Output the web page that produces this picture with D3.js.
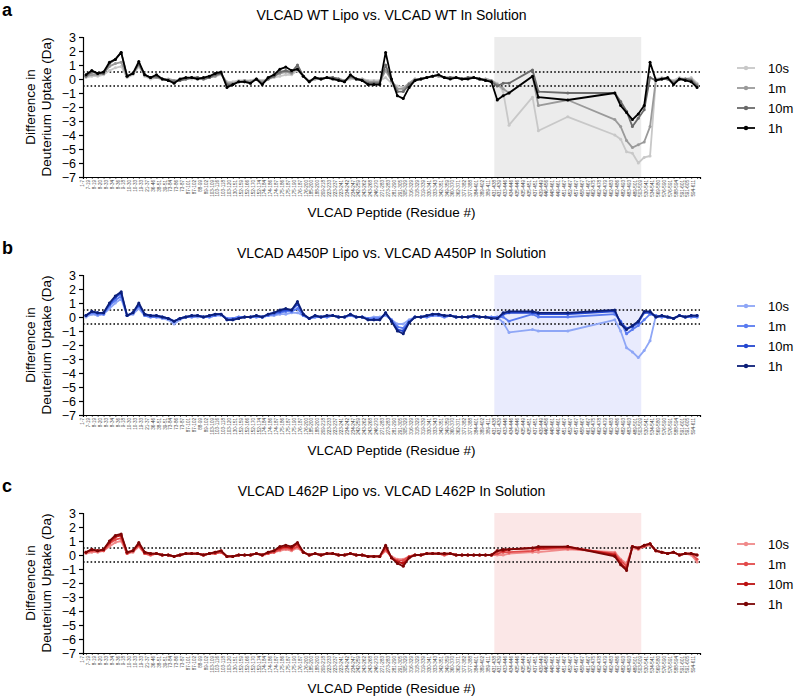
<!DOCTYPE html>
<html><head><meta charset="utf-8">
<script src="https://cdn.jsdelivr.net/npm/d3@7/dist/d3.min.js"></script>
<style>body{margin:0;background:#fff}svg{display:block;font-family:"Liberation Sans",Arial,sans-serif}</style>
</head><body><svg id="c" width="798" height="697"></svg>
<script>
const peptides = ["1-7","7-19","8-19","8-20","8-33","8-34","8-36","9-18","10-30","10-33","19-33","21-37","36-46","38-51","39-51","73-84","73-86","73-87","87-101","87-102","88-99","89-102","103-109","103-116","103-118","103-120","130-151","152-159","152-166","152-170","152-174","174-184","174-186","174-187","175-186","175-187","175-190","176-187","176-200","185-200","188-200","209-218","223-233","223-237","223-241","234-242","234-247","242-259","243-262","243-268","246-270","271-283","273-283","281-290","291-305","305-329","316-329","318-329","319-339","330-341","333-343","342-351","349-359","360-370","362-371","377-382","377-388","384-401","389-402","389-411","431-438","431-439","433-446","434-446","435-446","435-449","435-451","437-451","439-449","446-456","448-461","449-461","451-467","452-467","457-467","458-467","461-467","462-475","462-478","462-479","462-483","462-486","482-493","483-493","489-501","503-509","530-541","534-541","569-580","576-590","576-591","588-594","591-601","591-605","594-611"];
const timepoints = ["10s","1m","10m","1h"];
const panelTitles = ["VLCAD WT Lipo vs. VLCAD WT In Solution","VLCAD A450P Lipo vs. VLCAD A450P In Solution","VLCAD L462P Lipo vs. VLCAD L462P In Solution"];
const panelLetters = ["a","b","c"];
const yTicks = [3,2,1,0,-1,-2,-3,-4,-5,-6,-7];
const thresholds = [0.5,-0.5];
const shadeFrom = "431-438", shadeTo = "503-509";
const N = null;

// Panel a: WT
const wt10s = [0.1,0.2,0.2,0.3,0.6,0.8,0.9,0.1,0.3,0.9, 0.2,0.0,0.1,0.0,-0.1,-0.1,-0.1,0.0,0.0,0.1, 0.0,0.1,0.2,0.3,-0.2,-0.2,-0.1,-0.1,-0.1,0.0, -0.1,0.0,0.1,0.2,0.3,0.3,0.6,0.2,-0.1,0.0, 0.0,0.1,0.1,0.0,-0.1,0.0,0.0,0.0,-0.1,-0.1, -0.1,0.1,-0.3,-0.5,-0.6,-0.3,0.0,0.0,0.1,0.2, 0.2,0.1,0.1,0.1,0.0,0.1,0.1,0.0,0.0,-0.1, -0.3,-0.9,-3.3,N,N,N,-1.3,-3.7,N,N, N,N,-2.7,N,N,N,N,N,N,N, -4.0,-4.3,-5.2,-5.3,-6.0,-5.6,-5.5, 0.0,0.1,0.0,-0.1,0.1,0.0,0.1,-0.3];
const wt1m = [0.2,0.3,0.3,0.4,0.9,1.1,1.2,0.2,0.4,1.0, 0.3,0.1,0.1,0.0,0.0,-0.1,-0.1,0.0,0.1,0.1, 0.0,0.1,0.2,0.4,-0.3,-0.3,-0.2,-0.1,-0.2,0.0, -0.2,0.0,0.2,0.4,0.5,0.4,0.8,0.2,-0.2,0.0, 0.0,0.1,0.1,0.0,-0.1,0.1,0.0,0.0,-0.2,-0.2, -0.2,0.6,-0.1,-0.7,-0.7,-0.3,0.0,0.0,0.1,0.2, 0.2,0.1,0.1,0.1,0.0,0.1,0.1,0.0,0.0,-0.1, -0.4,-0.7,-1.0,N,N,N,0.2,-1.9,N,N, N,N,-1.5,N,N,N,N,N,N,N, -2.9,-3.4,-4.4,-4.9,-4.7,-4.5,-3.4, 0.0,0.0,0.0,-0.2,0.0,0.0,0.0,-0.4];
const wt10m = [0.2,0.5,0.4,0.4,1.1,1.4,1.9,0.2,0.4,1.1, 0.3,0.1,0.2,0.0,-0.1,-0.2,-0.1,0.0,0.1,0.1, 0.0,0.1,0.3,0.4,-0.4,-0.4,-0.2,-0.2,-0.3,0.0, -0.3,0.0,0.2,0.5,0.6,0.5,1.0,0.2,-0.2,0.1, 0.0,0.1,0.1,0.0,-0.2,0.2,0.0,-0.1,-0.3,-0.3, -0.3,1.0,-0.1,-0.9,-0.9,-0.4,-0.1,0.0,0.1,0.2, 0.3,0.1,0.1,0.1,0.0,0.1,0.1,0.0,-0.1,-0.2, -0.5,-0.3,-0.3,N,N,N,0.65,-0.9,N,N, N,N,-1.0,N,N,N,N,N,N,N, -1.0,-1.6,-2.3,-3.4,-2.8,-2.2,0.1, -0.1,0.0,0.0,-0.3,0.0,0.0,-0.1,-0.5];
const wt1h = [0.3,0.6,0.4,0.5,1.2,1.4,1.9,0.2,0.4,1.25, 0.3,0.1,0.3,0.0,-0.1,-0.3,0.0,0.1,0.1,0.0, 0.1,0.2,0.4,0.5,-0.6,-0.4,-0.2,-0.2,-0.3,0.0, -0.4,0.1,0.3,0.7,0.85,0.6,0.7,0.2,-0.2,0.1, 0.0,0.1,0.0,-0.1,-0.2,0.3,0.0,-0.1,-0.4,-0.4, -0.4,1.9,0.0,-1.2,-1.4,-0.6,-0.1,0.0,0.1,0.2, 0.3,0.1,0.0,0.1,0.0,0.0,0.1,0.0,-0.1,-0.2, -1.5,-1.2,-1.0,N,N,N,0.2,-1.3,N,N, N,N,-1.5,N,N,N,N,N,N,N, -1.0,-1.9,-2.4,-2.9,-2.5,-1.9,1.2, -0.1,0.0,0.1,-0.4,0.0,-0.1,-0.2,-0.6];

// Panel b: A450P
const a450p10s = [0.0,0.2,0.1,0.2,0.6,1.0,1.3,0.1,0.2,0.6, 0.1,0.0,0.0,-0.1,-0.2,-0.5,-0.2,0.0,0.0,0.0, 0.0,0.0,0.1,0.1,-0.1,-0.1,0.0,0.0,0.0,0.0, 0.0,0.1,0.1,0.2,0.2,0.3,0.3,0.1,-0.1,0.0, 0.0,0.0,0.1,0.0,0.0,0.1,0.0,0.0,-0.1,0.0, 0.0,0.1,-0.2,-0.5,-0.5,-0.2,0.0,0.0,0.0,0.1, 0.1,0.0,0.1,0.0,0.0,0.0,0.0,0.0,0.0,0.0, 0.0,-0.4,-1.1,N,N,N,-0.9,-1.0,N,N, N,N,-1.0,N,N,N,N,N,N,N, -0.2,-1.0,-2.2,-2.5,-2.9,-2.4,-1.7, 0.1,0.0,0.0,-0.1,0.1,0.0,0.0,0.0];
const a450p1m = [0.1,0.3,0.2,0.2,0.8,1.2,1.5,0.1,0.3,0.8, 0.1,0.0,0.0,0.0,-0.1,-0.3,-0.1,0.0,0.0,0.1, 0.0,0.0,0.1,0.2,-0.1,-0.1,0.0,0.0,0.0,0.0, 0.0,0.1,0.2,0.3,0.4,0.4,0.6,0.1,-0.1,0.0, 0.0,0.0,0.1,0.0,0.0,0.1,0.0,0.0,-0.1,-0.1, -0.1,0.2,-0.2,-0.7,-0.8,-0.3,0.0,0.0,0.0,0.1, 0.1,0.0,0.1,0.0,0.0,0.0,0.0,0.0,0.0,0.0, 0.0,0.0,-0.3,N,N,N,0.2,0.0,N,N, N,N,0.0,N,N,N,N,N,N,N, 0.2,-0.3,-1.2,-0.9,-0.6,-0.2,0.2, 0.1,0.0,0.0,-0.1,0.1,0.0,0.0,0.0];
const a450p10m = [0.1,0.4,0.3,0.3,0.9,1.4,1.7,0.1,0.3,0.9, 0.2,0.1,0.1,0.0,-0.1,-0.3,-0.1,0.0,0.1,0.1, 0.0,0.1,0.2,0.2,-0.2,-0.2,-0.1,0.0,0.0,0.1, 0.0,0.2,0.3,0.4,0.5,0.5,0.9,0.2,-0.1,0.1, 0.0,0.1,0.1,0.0,0.0,0.2,0.0,0.0,-0.2,-0.2, -0.2,0.3,-0.3,-0.9,-1.0,-0.4,0.0,0.0,0.1,0.2, 0.2,0.1,0.1,0.0,0.0,0.0,0.1,0.0,0.0,-0.1, -0.1,0.2,0.3,N,N,N,0.3,0.2,N,N, N,N,0.2,N,N,N,N,N,N,N, 0.4,-0.4,-0.8,-0.7,-0.4,0.3,0.3, 0.0,0.1,0.0,-0.1,0.1,0.0,0.1,0.1];
const a450p1h = [0.1,0.4,0.3,0.3,1.0,1.5,1.8,0.1,0.3,1.0, 0.2,0.1,0.1,0.0,-0.1,-0.3,-0.1,0.0,0.1,0.1, 0.0,0.1,0.2,0.2,-0.2,-0.2,-0.1,0.0,0.0,0.1, 0.0,0.2,0.3,0.5,0.6,0.5,1.1,0.2,-0.1,0.1, 0.0,0.1,0.1,0.0,0.0,0.2,0.0,0.0,-0.2,-0.2, -0.2,0.3,-0.3,-1.0,-1.2,-0.4,0.0,0.0,0.1,0.2, 0.2,0.1,0.1,0.0,0.0,0.0,0.1,0.0,0.0,-0.1, -0.1,0.3,0.4,N,N,N,0.4,0.3,N,N, N,N,0.3,N,N,N,N,N,N,N, 0.5,-0.5,-0.9,-0.6,-0.3,0.4,0.4, 0.0,0.1,0.0,-0.1,0.1,0.0,0.1,0.1];

// Panel c: L462P
const l462p10s = [0.1,0.2,0.2,0.3,0.6,0.9,1.0,0.1,0.2,0.6, 0.1,0.0,0.1,0.0,0.0,-0.1,0.0,0.1,0.1,0.1, 0.0,0.1,0.1,0.2,-0.1,-0.1,0.0,0.0,0.0,0.1, 0.0,0.1,0.2,0.3,0.4,0.3,0.5,0.2,0.0,0.1, 0.0,0.1,0.1,0.0,0.0,0.1,0.0,0.0,-0.1,-0.1, -0.1,0.3,-0.1,-0.3,-0.3,-0.1,0.0,0.0,0.1,0.1, 0.1,0.0,0.1,0.0,0.0,0.0,0.0,0.0,0.0,0.0, 0.0,0.0,0.1,N,N,N,0.2,0.2,N,N, N,N,0.4,N,N,N,N,N,N,N, 0.2,-0.3,-0.6,0.5,0.4,0.6,0.7, 0.3,0.2,0.1,0.2,0.0,0.1,0.0,-0.5];
const l462p1m = [0.2,0.3,0.3,0.3,0.8,1.1,1.2,0.1,0.3,0.7, 0.1,0.0,0.1,0.0,0.0,-0.1,0.0,0.1,0.1,0.1, 0.0,0.1,0.1,0.2,-0.1,-0.1,0.0,0.0,0.0,0.1, 0.0,0.1,0.2,0.4,0.5,0.4,0.6,0.2,0.0,0.1, 0.0,0.1,0.1,0.0,0.0,0.1,0.0,0.0,-0.1,-0.1, -0.1,0.4,-0.2,-0.4,-0.4,-0.1,0.0,0.0,0.1,0.1, 0.1,0.0,0.1,0.0,0.0,0.0,0.0,0.0,0.0,0.0, 0.1,0.2,0.2,N,N,N,0.3,0.4,N,N, N,N,0.5,N,N,N,N,N,N,N, 0.1,-0.4,-0.8,0.6,0.5,0.6,0.8, 0.3,0.2,0.1,0.2,0.0,0.1,0.1,-0.3];
const l462p10m = [0.2,0.4,0.3,0.4,0.9,1.3,1.4,0.2,0.3,0.8, 0.2,0.1,0.1,0.0,0.0,-0.1,0.0,0.1,0.1,0.1, 0.0,0.1,0.2,0.3,-0.1,-0.1,0.0,0.0,0.0,0.1, 0.0,0.2,0.3,0.5,0.6,0.5,0.8,0.2,0.0,0.1, 0.0,0.1,0.1,0.0,0.0,0.1,0.0,0.0,-0.1,-0.1, -0.1,0.6,-0.2,-0.5,-0.6,-0.2,0.0,0.0,0.1,0.1, 0.1,0.1,0.1,0.0,0.0,0.0,0.0,0.0,0.0,0.0, 0.3,0.3,0.4,N,N,N,0.5,0.5,N,N, N,N,0.6,N,N,N,N,N,N,N, 0.0,-0.6,-1.0,0.6,0.5,0.7,0.8, 0.3,0.2,0.1,0.2,0.0,0.1,0.1,0.0];
const l462p1h = [0.2,0.4,0.3,0.4,1.0,1.4,1.5,0.2,0.3,0.9, 0.2,0.1,0.1,0.0,0.0,-0.1,0.0,0.1,0.1,0.1, 0.0,0.1,0.2,0.3,-0.1,-0.1,0.0,0.0,0.0,0.1, 0.0,0.2,0.3,0.6,0.7,0.6,0.9,0.2,0.0,0.1, 0.0,0.1,0.1,0.0,0.0,0.1,0.0,0.0,-0.1,-0.1, -0.1,0.7,-0.2,-0.6,-0.8,-0.2,0.0,0.0,0.1,0.1, 0.1,0.1,0.1,0.0,0.0,0.0,0.0,0.0,0.0,0.0, 0.3,0.4,0.4,N,N,N,0.5,0.6,N,N, N,N,0.6,N,N,N,N,N,N,N, -0.1,-0.7,-1.1,0.6,0.5,0.7,0.8, 0.3,0.2,0.1,0.2,0.0,0.1,0.1,0.0];

const panelSeries = [[wt10s,wt1m,wt10m,wt1h],[a450p10s,a450p1m,a450p10m,a450p1h],[l462p10s,l462p1m,l462p10m,l462p1h]];
const panelColors = [["#c8c8c8","#9a9a9a","#6a6a6a","#000000"],["#8ea6f6","#5a7bf0","#2447d0","#0c1f78"],["#f08a8a","#e24a4a","#bb1111","#7a0505"]];
const shadeColors = ["#ececec","#e9ebfd","#fbe7e7"];

const svg = d3.select("#c");
const W = {left:83, right:700, top:37, bottom:177};
const offsets = [0,238,476];

const x = d3.scalePoint().domain(peptides).range([W.left, W.right]).padding(0.5);
const y0 = d3.scaleLinear().domain([-7,3]).range([W.bottom, W.top]);

panelSeries.forEach((series, p) => {
  const g = svg.append("g").attr("transform", `translate(0,${offsets[p]})`);
  g.append("text").attr("x",2).attr("y",16).attr("font-size",18).attr("font-weight","bold").text(panelLetters[p]);
  g.append("text").attr("x",(W.left+W.right)/2).attr("y",20).attr("text-anchor","middle").attr("font-size",14).text(panelTitles[p]);
  const step = x.step();
  const sx0 = x(shadeFrom) - step/2, sx1 = x(shadeTo) - step/2;
  g.append("rect").attr("x",sx0).attr("y",W.top).attr("width",sx1-sx0).attr("height",W.bottom-W.top).attr("fill",shadeColors[p]);
  thresholds.forEach(t => {
    g.append("line").attr("x1",W.left).attr("x2",W.right).attr("y1",y0(t)).attr("y2",y0(t))
      .attr("stroke","#000").attr("stroke-width",1.6).attr("stroke-dasharray","1.6,2.2");
  });
  const ya = g.append("g").attr("transform",`translate(${W.left},0)`).call(d3.axisLeft(y0).tickValues(yTicks).tickSize(4).tickPadding(3));
  ya.selectAll("text").attr("font-size",12.5).attr("font-family","Liberation Sans, Arial, sans-serif").attr("fill","#000");
  ya.selectAll("line,path").attr("stroke","#000").attr("stroke-width",1.2);
  const xa = g.append("g").attr("transform",`translate(0,${W.bottom})`).call(d3.axisBottom(x).tickSize(2).tickPadding(1));
  xa.select(".domain").attr("stroke","#000").attr("stroke-width",1.2);
  xa.selectAll(".tick line").attr("stroke","#000").attr("stroke-width",0.6);
  xa.selectAll("text").attr("font-size",4.6).attr("font-family","Liberation Sans, Arial, sans-serif").attr("fill","#444")
    .attr("transform","rotate(-90)").attr("text-anchor","end").attr("dx","-3").attr("dy","-2.2").attr("y",0).attr("x",0);
  const yt = g.append("text").attr("transform",`translate(38,${(W.top+W.bottom)/2}) rotate(-90)`).attr("text-anchor","middle").attr("font-size",13.5);
  yt.append("tspan").attr("x",0).attr("dy","-0.2em").text("Difference in");
  yt.append("tspan").attr("x",0).attr("dy","1.15em").text("Deuterium Uptake (Da)");
  g.append("text").attr("x",(W.left+W.right)/2).attr("y",217).attr("text-anchor","middle").attr("font-size",13.5).text("VLCAD Peptide (Residue #)");
  const line = d3.line().x(d=>x(d.k)).y(d=>y0(d.v));
  series.forEach((vals, s) => {
    const pts = peptides.map((k,i)=>({k, v: vals[i]})).filter(d=>d.v!==null);
    g.append("path").datum(pts).attr("d",line).attr("fill","none").attr("stroke",panelColors[p][s]).attr("stroke-width",1.8).attr("stroke-linejoin","round");
    g.append("g").selectAll("circle").data(pts).join("circle").attr("cx",d=>x(d.k)).attr("cy",d=>y0(d.v)).attr("r",1.5).attr("fill",panelColors[p][s]);
  });
  timepoints.forEach((t, s) => {
    const ly = 68 + s*20;
    g.append("line").attr("x1",737).attr("x2",755).attr("y1",ly).attr("y2",ly).attr("stroke",panelColors[p][s]).attr("stroke-width",1.8);
    g.append("circle").attr("cx",746).attr("cy",ly).attr("r",2.2).attr("fill",panelColors[p][s]);
    g.append("text").attr("x",768).attr("y",ly+4.5).attr("font-size",13).text(t);
  });
});
</script></body></html>
